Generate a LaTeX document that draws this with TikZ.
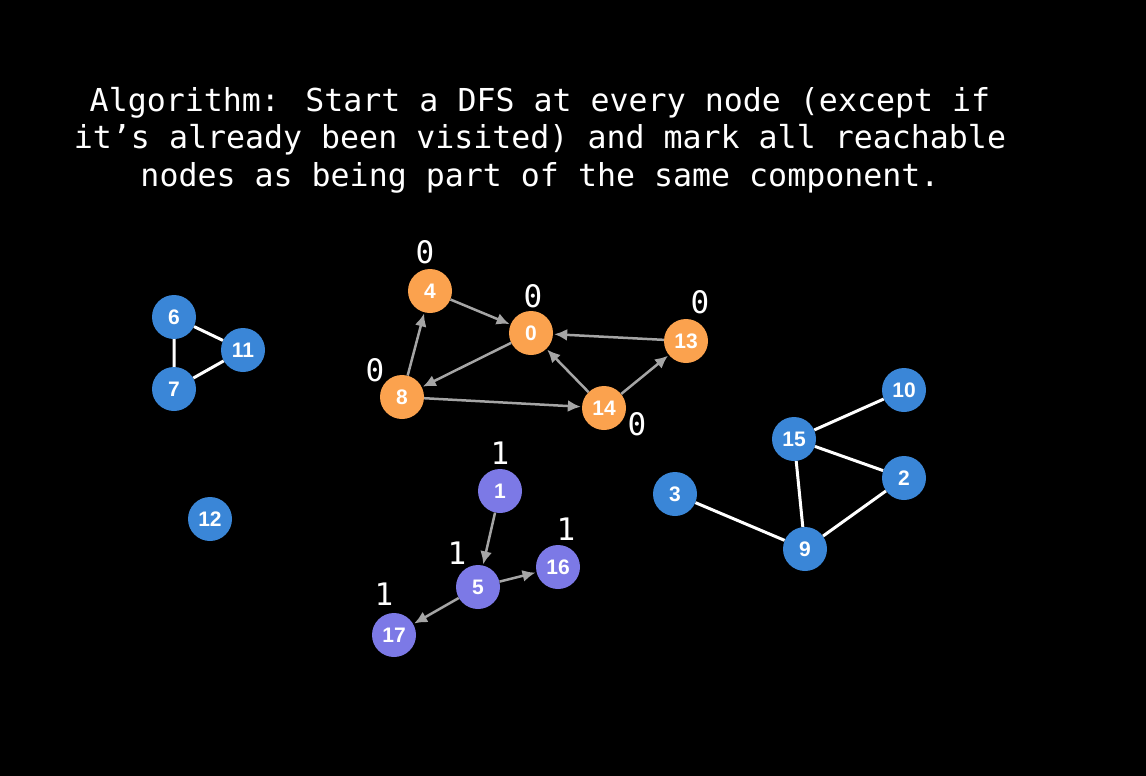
\documentclass[tikz,border=0pt]{standalone}
\usepackage{fontspec}
\setmainfont{Liberation Sans}
\newfontfamily\monofont{DejaVu Sans Mono}
\usetikzlibrary{arrows.meta}
\definecolor{orangenode}{HTML}{FBA24E}
\definecolor{bluenode}{HTML}{3A86D7}
\definecolor{purplenode}{HTML}{7C79E6}
\definecolor{arrowgray}{HTML}{A5A5A5}
\begin{document}
\begin{tikzpicture}[x=1pt,y=-1pt]
        \tikzstyle{sommet}=[circle,minimum size=44pt,inner sep=0pt,text=white,font=\fontsize{21}{23}\selectfont\bfseries]
        \tikzstyle{orange}=[sommet,fill=orangenode]
        \tikzstyle{bleu}=[sommet,fill=bluenode]
        \tikzstyle{violet}=[sommet,fill=purplenode]
        \tikzstyle{marque}=[text=white,font=\monofont\fontsize{31}{33}\selectfont]
        \tikzstyle{fleche}=[draw=arrowgray,line width=2.5pt,-{Latex[length=13pt,width=12pt]},shorten >=1pt]
        \tikzstyle{arete}=[draw=white,line width=3pt]
        \fill[black] (0,0) rectangle (1146,776);
        \node[text=white,align=center,font=\monofont\fontsize{31.6}{37.5}\selectfont] (titre) at (540,140) {Algorithm: Start a DFS at every node (except if\\it’s already been visited) and mark all reachable\\nodes as being part of the same component.};
        % composante 0
        \node[orange] (4) at (430,291) {4};
        \node[orange] (0) at (531,333) {0};
        \node[orange] (13) at (686,341) {13};
        \node[orange] (8) at (402,397) {8};
        \node[orange] (14) at (604,408) {14};
        \node[marque] (m4) at (425,252) {0};
        \node[marque] (m0) at (533,296) {0};
        \node[marque] (m13) at (700,302) {0};
        \node[marque] (m8) at (375,370) {0};
        \node[marque] (m14) at (637,424) {0};
        \draw[fleche] (4) -- (0);
        \draw[fleche] (0) -- (8);
        \draw[fleche] (8) -- (4);
        \draw[fleche] (8) -- (14);
        \draw[fleche] (14) -- (0);
        \draw[fleche] (14) -- (13);
        \draw[fleche] (13) -- (0);
        % composante 1
        \node[violet] (1) at (500,491) {1};
        \node[violet] (5) at (478,587) {5};
        \node[violet] (16) at (558,567) {16};
        \node[violet] (17) at (394,635) {17};
        \node[marque] (m1) at (500,453) {1};
        \node[marque] (m16) at (566,529) {1};
        \node[marque] (m5) at (457,553) {1};
        \node[marque] (m17) at (384,594) {1};
        \draw[fleche] (1) -- (5);
        \draw[fleche] (5) -- (16);
        \draw[fleche] (5) -- (17);
        % autres
        \node[bleu] (6) at (174,317) {6};
        \node[bleu] (11) at (243,350) {11};
        \node[bleu] (7) at (174,389) {7};
        \node[bleu] (12) at (210,519) {12};
        \node[bleu] (10) at (904,390) {10};
        \node[bleu] (15) at (794,439) {15};
        \node[bleu] (2) at (904,478) {2};
        \node[bleu] (3) at (675,494) {3};
        \node[bleu] (9) at (805,549) {9};
        \draw[arete] (6) -- (11) -- (7) -- (6);
        \draw[arete] (10) -- (15) -- (2) -- (9) -- (15);
        \draw[arete] (3) -- (9);
    \end{tikzpicture}
\end{document}
